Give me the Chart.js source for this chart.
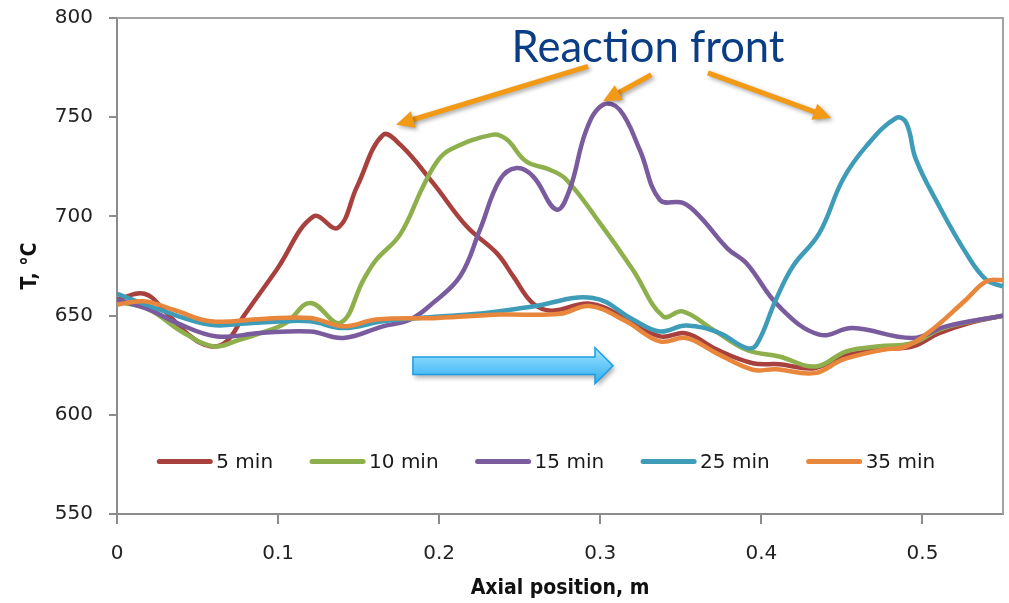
<!DOCTYPE html>
<html>
<head>
<meta charset="utf-8">
<script src="https://cdn.jsdelivr.net/npm/chart.js@4.4.1/dist/chart.umd.min.js"></script>
<style>
  html, body { margin: 0; padding: 0; background: #fff; }
  #wrap { width: 1009px; height: 603px; position: relative; }
</style>
</head>
<body>
<div id="wrap"><canvas id="line-chart"></canvas></div>
<script>
// series labels and colours
const seriesLabels = ["5 min", "10 min", "15 min", "25 min", "35 min"];
const seriesColors = ["#a8413e", "#8db04d", "#7a5b9e", "#3f9cb8", "#e8863b"];

// axis ticks
const xTicks = [0, 0.1, 0.2, 0.3, 0.4, 0.5];
const yTicks = [550, 600, 650, 700, 750, 800];

// 5 min
const pos5 = [0, 0.017, 0.03, 0.045, 0.058, 0.068, 0.0785, 0.099, 0.122, 0.137, 0.149, 0.165, 0.176, 0.196, 0.217, 0.2356, 0.246, 0.258, 0.27, 0.2935, 0.316, 0.337, 0.3534, 0.372, 0.3947, 0.411, 0.433, 0.4505, 0.475, 0.494, 0.51, 0.53, 0.55];
const temp5 = [658, 661, 652, 640, 634.5, 637, 649.6, 673, 700, 694.2, 715, 741, 736, 717, 695, 681.6, 669.8, 656.3, 652.5, 656, 648.5, 639.5, 641, 633, 626, 625.5, 623.5, 629.5, 633, 634.5, 641, 646.5, 650];

// 10 min
const pos10 = [0, 0.02, 0.04, 0.06, 0.075, 0.089, 0.105, 0.12, 0.1385, 0.153, 0.161, 0.1757, 0.19, 0.199, 0.2067, 0.2335, 0.242, 0.254, 0.2687, 0.279, 0.2997, 0.3203, 0.339, 0.351, 0.37, 0.3906, 0.411, 0.434, 0.4527, 0.473, 0.494, 0.5105, 0.53, 0.55];
const temp10 = [657, 653, 642, 634.5, 637.5, 641.2, 646.3, 656.4, 646.3, 668, 678.2, 690.8, 715.1, 728, 733.6, 741.2, 738.7, 727.7, 723.5, 718.5, 696.7, 673, 649.6, 652.1, 642.9, 632.8, 629.4, 624.4, 632, 634.5, 636.2, 642.9, 647, 650];

// 15 min
const pos15 = [0, 0.02, 0.037, 0.062, 0.089, 0.12, 0.1405, 0.165, 0.182, 0.196, 0.213, 0.2253, 0.2377, 0.248, 0.2583, 0.2728, 0.281, 0.2914, 0.3017, 0.312, 0.3245, 0.3369, 0.3513, 0.3617, 0.379, 0.3906, 0.411, 0.436, 0.4567, 0.494, 0.5146, 0.55];
const temp15 = [658, 653, 646.3, 639.5, 641.2, 642, 638.7, 644.6, 648, 656.3, 669.8, 693.3, 718.5, 724.4, 720.2, 703.4, 713.5, 743.7, 756.3, 753.8, 733.6, 708.4, 706.8, 700, 683.8, 676.5, 654.6, 640.4, 643.7, 638.7, 644.6, 650];

// 25 min
const pos25 = [0, 0.03, 0.058, 0.08, 0.1, 0.12, 0.1405, 0.165, 0.2, 0.23, 0.258, 0.2955, 0.3203, 0.337, 0.3534, 0.374, 0.3906, 0.397, 0.409, 0.4195, 0.436, 0.4505, 0.465, 0.4837, 0.49, 0.496, 0.5105, 0.527, 0.5395, 0.55];
const temp25 = [661, 652, 645.4, 646, 647, 647.1, 643.7, 647.1, 649.5, 651.5, 654.6, 658.9, 648, 642, 645, 641.2, 633.7, 635.3, 658, 674.8, 691.6, 718.5, 735.3, 749.6, 747.1, 728.6, 705, 681.6, 668.1, 664.7];

// 35 min
const pos35 = [0, 0.0165, 0.035, 0.058, 0.09, 0.12, 0.1405, 0.161, 0.199, 0.2377, 0.2749, 0.2935, 0.316, 0.337, 0.3534, 0.372, 0.3947, 0.409, 0.433, 0.4505, 0.4753, 0.4899, 0.506, 0.527, 0.5395, 0.55];
const temp35 = [655.5, 657.2, 653, 647.1, 648.3, 648.8, 644.6, 648, 648.8, 650.5, 650.9, 654.8, 647.1, 637, 638.7, 631.1, 622.7, 623, 621, 627.8, 632.8, 634.5, 642.9, 658, 667.2, 668];

const allPos = [pos5, pos10, pos15, pos25, pos35];
const allTemp = [temp5, temp10, temp15, temp25, temp35];

// annotation anchors, in data units (x in m, y in °C)
const frontLabel = { text: "Reaction front", x: 0.2449, y: 777.6, width: 273 };
const frontArrows = [
  [0.2924, 775.6, 0.1732, 746.2],
  [0.3317, 771.4, 0.3017, 758.0],
  [0.3668, 772.3, 0.4434, 749.6]
];
const flowArrow = { x0: 0.1837, x1: 0.3079, y: 624.7 };
const legendAt = { x: 0.025, y: 576.5 };

const datasets = seriesLabels.map((label, i) => ({
  label: label,
  data: allPos[i].map((x, j) => ({ x: x, y: allTemp[i][j] })),
  borderColor: seriesColors[i],
  borderWidth: 4.5,
  pointRadius: 0,
  tension: 0.4,
  fill: false,
  order: seriesLabels.length - i
}));

const drawArrowHead = (ctx, x0, y0, x1, y1, len, half) => {
  const a = Math.atan2(y1 - y0, x1 - x0);
  ctx.beginPath();
  ctx.moveTo(x1, y1);
  ctx.lineTo(x1 - len * Math.cos(a) + half * Math.sin(a), y1 - len * Math.sin(a) - half * Math.cos(a));
  ctx.lineTo(x1 - len * Math.cos(a) - half * Math.sin(a), y1 - len * Math.sin(a) + half * Math.cos(a));
  ctx.closePath();
  ctx.fill();
};

const extrasPlugin = {
  id: 'extras',
  beforeDatasetsDraw(chart) {
    // plot area border on top and right
    const { ctx, chartArea } = chart;
    ctx.save();
    ctx.strokeStyle = '#a3a3a3';
    ctx.lineWidth = 2;
    ctx.beginPath();
    ctx.moveTo(chartArea.left, chartArea.top);
    ctx.lineTo(chartArea.right, chartArea.top);
    ctx.lineTo(chartArea.right, chartArea.bottom);
    ctx.stroke();
    ctx.restore();
  },
  afterDatasetsDraw(chart) {
    const { ctx } = chart;
    const xs = chart.scales.x, ys = chart.scales.y;
    const px = v => xs.getPixelForValue(v);
    const py = v => ys.getPixelForValue(v);

    // legend inside plot
    ctx.save();
    ctx.font = '20px "DejaVu Sans"';
    ctx.textBaseline = 'middle';
    ctx.lineCap = 'round';
    let lx = px(legendAt.x);
    const ly = py(legendAt.y);
    chart.data.datasets.forEach(ds => {
      ctx.strokeStyle = ds.borderColor;
      ctx.lineWidth = 5;
      ctx.beginPath();
      ctx.moveTo(lx + 2, ly);
      ctx.lineTo(lx + 53, ly);
      ctx.stroke();
      ctx.fillStyle = '#1a1a1a';
      ctx.fillText(ds.label, lx + 59, ly + 1);
      lx += 59 + ctx.measureText(ds.label).width + 37;
    });
    ctx.restore();

    // "Reaction front" label
    ctx.save();
    ctx.font = '100px Lato';
    const size = 100 * frontLabel.width / ctx.measureText(frontLabel.text).width;
    ctx.font = size + 'px Lato';
    ctx.fillStyle = '#0b3d84';
    ctx.textBaseline = 'alphabetic';
    ctx.fillText(frontLabel.text, px(frontLabel.x), py(frontLabel.y));
    ctx.restore();

    // orange arrows
    ctx.save();
    ctx.shadowColor = 'rgba(0,0,0,0.35)';
    ctx.shadowBlur = 4;
    ctx.shadowOffsetX = 2;
    ctx.shadowOffsetY = 2;
    ctx.strokeStyle = '#f29a16';
    ctx.fillStyle = '#f29a16';
    ctx.lineWidth = 5;
    frontArrows.forEach(a => {
      const x0 = px(a[0]), y0 = py(a[1]), x1 = px(a[2]), y1 = py(a[3]);
      const ang = Math.atan2(y1 - y0, x1 - x0);
      ctx.beginPath();
      ctx.moveTo(x0, y0);
      ctx.lineTo(x1 - 12 * Math.cos(ang), y1 - 12 * Math.sin(ang));
      ctx.stroke();
      drawArrowHead(ctx, x0, y0, x1, y1, 18, 8.5);
    });
    ctx.restore();

    // blue flow arrow
    ctx.save();
    const bx0 = px(flowArrow.x0), bx1 = px(flowArrow.x1), by = py(flowArrow.y);
    const headLen = 18, bodyHalf = 8.8, headHalf = 18;
    const g = ctx.createLinearGradient(0, by - headHalf, 0, by + headHalf);
    g.addColorStop(0, '#a8e4ff');
    g.addColorStop(0.45, '#6ccbfa');
    g.addColorStop(1, '#33aeee');
    ctx.shadowColor = 'rgba(0,0,0,0.35)';
    ctx.shadowBlur = 5;
    ctx.shadowOffsetX = 2;
    ctx.shadowOffsetY = 3;
    ctx.beginPath();
    ctx.moveTo(bx0, by - bodyHalf);
    ctx.lineTo(bx1 - headLen, by - bodyHalf);
    ctx.lineTo(bx1 - headLen, by - headHalf);
    ctx.lineTo(bx1, by);
    ctx.lineTo(bx1 - headLen, by + headHalf);
    ctx.lineTo(bx1 - headLen, by + bodyHalf);
    ctx.lineTo(bx0, by + bodyHalf);
    ctx.closePath();
    ctx.fillStyle = g;
    ctx.fill();
    ctx.shadowColor = 'transparent';
    ctx.strokeStyle = '#1b9ee3';
    ctx.lineWidth = 1.5;
    ctx.stroke();
    ctx.restore();
  }
};

const chart = new Chart(document.getElementById("line-chart"), {
  type: 'line',
  data: { datasets: datasets },
  plugins: [extrasPlugin],
  options: {
    responsive: true,
    maintainAspectRatio: false,
    animation: false,
    layout: { padding: { left: 0, top: 18, right: 6, bottom: 0 } },
    plugins: {
      legend: { display: false },
      tooltip: { enabled: false }
    },
    scales: {
      x: {
        type: 'linear',
        min: 0,
        max: 0.55,
        afterBuildTicks: scale => { scale.ticks = xTicks.map(v => ({ value: v })); },
        afterFit: scale => {
          scale.height = 89;
          scale.paddingLeft = 0;
          scale.paddingRight = 0;
        },
        ticks: {
          padding: 18,
          color: '#222',
          font: { family: 'DejaVu Sans', size: 20 },
          callback: v => String(+v.toFixed(2))
        },
        grid: { drawOnChartArea: false, tickLength: 10, color: '#8c8c8c', lineWidth: 2 },
        border: { color: '#8c8c8c', width: 2 },
        title: {
          display: true,
          text: 'Axial position, m',
          color: '#111',
          font: { family: 'DejaVu Sans Condensed', size: 21, weight: 'bold' },
          padding: { top: 0, bottom: 2 }
        }
      },
      y: {
        min: 550,
        max: 800,
        afterBuildTicks: scale => { scale.ticks = yTicks.map(v => ({ value: v })); },
        afterFit: scale => {
          scale.width = 117;
          scale.paddingTop = 0;
          scale.paddingBottom = 0;
        },
        ticks: {
          padding: 16,
          color: '#222',
          font: { family: 'DejaVu Sans', size: 20 }
        },
        grid: { drawOnChartArea: false, tickLength: 8, color: '#8c8c8c', lineWidth: 2 },
        border: { color: '#8c8c8c', width: 2 },
        title: {
          display: true,
          text: 'T, °C',
          color: '#111',
          font: { family: 'DejaVu Sans Condensed', size: 21, weight: 'bold' },
          padding: { top: 18, bottom: 0 }
        }
      }
    }
  }
});
</script>
</body>
</html>
